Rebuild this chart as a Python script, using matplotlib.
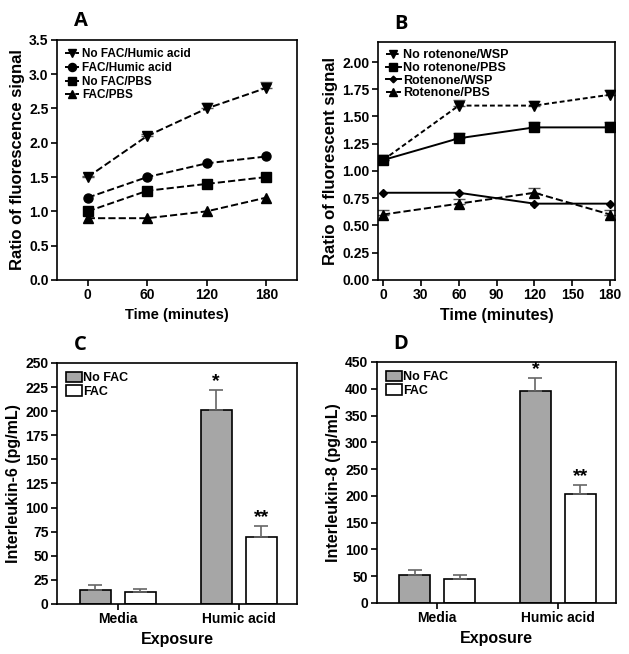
import numpy as np
import matplotlib
matplotlib.use("Agg")
import matplotlib.pyplot as plt

plt.rcParams['font.family'] = ['Liberation Sans', 'DejaVu Sans']
plt.rcParams['font.weight'] = 'bold'
plt.rcParams['axes.linewidth'] = 1.2

# panel A
time_a = [0, 60, 120, 180]
a_nofac_humic = [1.5, 2.1, 2.5, 2.8]
a_nofac_humic_err = [0.02, 0.03, 0.08, 0.08]
a_fac_humic = [1.2, 1.5, 1.7, 1.8]
a_nofac_pbs = [1.0, 1.3, 1.4, 1.5]
a_fac_pbs = [0.9, 0.9, 1.0, 1.2]

# panel B
time_b = [0, 60, 120, 180]
b_norot_wsp = [1.1, 1.6, 1.6, 1.7]
b_norot_wsp_err = [0.02, 0.05, 0.04, 0.04]
b_norot_pbs = [1.1, 1.3, 1.4, 1.4]
b_norot_pbs_err = [0.02, 0.05, 0.05, 0.05]
b_rot_wsp = [0.8, 0.8, 0.7, 0.7]
b_rot_pbs = [0.6, 0.7, 0.8, 0.6]
b_rot_pbs_err = [0.04, 0.04, 0.04, 0.04]

# panels C and D
exposures = ['Media', 'Humic acid']
il6_nofac = [15, 201]
il6_nofac_err = [5, 21]
il6_fac = [12, 69]
il6_fac_err = [4, 12]
il8_nofac = [53, 395]
il8_nofac_err = [9, 25]
il8_fac = [44, 203]
il8_fac_err = [9, 18]

fig = plt.figure(figsize=(6.29, 6.54), dpi=100)

axA = fig.add_axes([0.0906, 0.572, 0.3816, 0.367])
axB = fig.add_axes([0.601, 0.572, 0.377, 0.364])
axC = fig.add_axes([0.0906, 0.0765, 0.3816, 0.3685])
axD = fig.add_axes([0.599, 0.078, 0.38, 0.3685])

lk = dict(color='black', lw=1.4, ms=6.5)
ebk = dict(fmt='none', capsize=4, ecolor='#555555', elinewidth=1)


def up_err(ax, x, y, err):
    # one sided error bars, like the original figure
    ax.errorbar(x, y, yerr=[[0] * len(err), err], **ebk)


# ---- A
up_err(axA, time_a, a_nofac_humic, a_nofac_humic_err)
axA.plot(time_a, a_nofac_humic, marker='v', ls='--', label='No FAC/Humic acid', **lk)
axA.plot(time_a, a_fac_humic, marker='o', ls='--', label='FAC/Humic acid', **lk)
axA.plot(time_a, a_nofac_pbs, marker='s', ls='--', label='No FAC/PBS', **lk)
axA.plot(time_a, a_fac_pbs, marker='^', ls='--', label='FAC/PBS', **lk)
axA.set_xlim(-31, 211)
axA.set_ylim(0, 3.5)
axA.set_xticks(time_a)
axA.set_yticks(np.arange(0, 3.51, 0.5))
axA.yaxis.set_major_formatter(matplotlib.ticker.FormatStrFormatter('%.1f'))
axA.set_xlabel('Time (minutes)', fontsize=10.5, fontweight='bold')
axA.set_ylabel('Ratio of fluorescence signal', fontsize=12, fontweight='bold', labelpad=3)
axA.legend(loc='upper left', frameon=False, fontsize=8.5, markerscale=0.9,
           handlelength=1.2, handletextpad=0.2, labelspacing=0.15, borderaxespad=0.3)

# ---- B
up_err(axB, time_b, b_norot_wsp, b_norot_wsp_err)
up_err(axB, time_b, b_norot_pbs, b_norot_pbs_err)
up_err(axB, time_b, b_rot_pbs, b_rot_pbs_err)
axB.plot(time_b, b_norot_wsp, marker='v', ls=(0, (2.5, 1.5)), label='No rotenone/WSP', **lk)
axB.plot(time_b, b_norot_pbs, marker='s', ls='-', color='black', lw=1.4, ms=7.5, label='No rotenone/PBS')
axB.plot(time_b, b_rot_wsp, marker='D', ls='-', color='black', lw=1.4, ms=4, label='Rotenone/WSP')
axB.plot(time_b, b_rot_pbs, marker='^', ls='--', label='Rotenone/PBS', **lk)
axB.set_xlim(-4, 184)
axB.set_ylim(0, 2.185)
axB.set_xticks(np.arange(0, 181, 30))
axB.set_yticks(np.arange(0, 2.01, 0.25))
axB.yaxis.set_major_formatter(matplotlib.ticker.FormatStrFormatter('%.2f'))
axB.set_xlabel('Time (minutes)', fontsize=11.5, fontweight='bold')
axB.set_ylabel('Ratio of fluorescent signal', fontsize=12, fontweight='bold', labelpad=3)
axB.legend(loc='upper left', frameon=False, fontsize=9, markerscale=0.85,
           handlelength=1.2, handletextpad=0.2, labelspacing=0.05, borderaxespad=0.2)


# ---- C, D bars
def bars(ax, nofac, nofac_err, fac, fac_err, ylim, step, ylabel):
    x = np.arange(len(exposures))
    off = 0.186
    w = 0.256
    ek = dict(ecolor='#666666', capsize=5, error_kw=dict(elinewidth=1.2, capthick=1.2))
    ax.bar(x - off, nofac, w, yerr=[[0]*2, nofac_err], color='#a6a6a6', edgecolor='black',
           linewidth=1.2, label='No FAC', **ek)
    ax.bar(x + off, fac, w, yerr=[[0]*2, fac_err], color='white', edgecolor='black',
           linewidth=1.2, label='FAC', **ek)
    ax.text(x[1] - off, nofac[1] + nofac_err[1], '*', ha='center', va='bottom', fontsize=14)
    ax.text(x[1] + off, fac[1] + fac_err[1], '**', ha='center', va='bottom', fontsize=14)
    ax.set_xlim(-0.5, 1.48)
    ax.set_ylim(0, ylim)
    ax.set_yticks(np.arange(0, ylim + 1, step))
    ax.set_xticks(x)
    ax.set_xticklabels(exposures)
    ax.set_xlabel('Exposure', fontsize=11.5, fontweight='bold')
    ax.set_ylabel(ylabel, fontsize=11.5, fontweight='bold', labelpad=3)
    ax.legend(loc='upper left', frameon=False, fontsize=9, handlelength=1.3, handleheight=0.9,
              handletextpad=0.1, labelspacing=0.1, borderaxespad=0.3)


bars(axC, il6_nofac, il6_nofac_err, il6_fac, il6_fac_err, 250, 25, 'Interleukin-6 (pg/mL)')
bars(axD, il8_nofac, il8_nofac_err, il8_fac, il8_fac_err, 450, 50, 'Interleukin-8 (pg/mL)')

for ax in (axA, axB, axC, axD):
    ax.tick_params(labelsize=10, width=1.2, length=4, direction='out', pad=2)
    for lab in ax.get_xticklabels() + ax.get_yticklabels():
        lab.set_fontweight('bold')

for ax, letter in ((axA, 'A'), (axB, 'B'), (axC, 'C'), (axD, 'D')):
    ax.text(0.07, 1.035, letter, transform=ax.transAxes, fontsize=14.5, fontweight='bold',
            family=['Open Sans', 'DejaVu Sans'], va='bottom')

fig.savefig('out.png', dpi=100)
